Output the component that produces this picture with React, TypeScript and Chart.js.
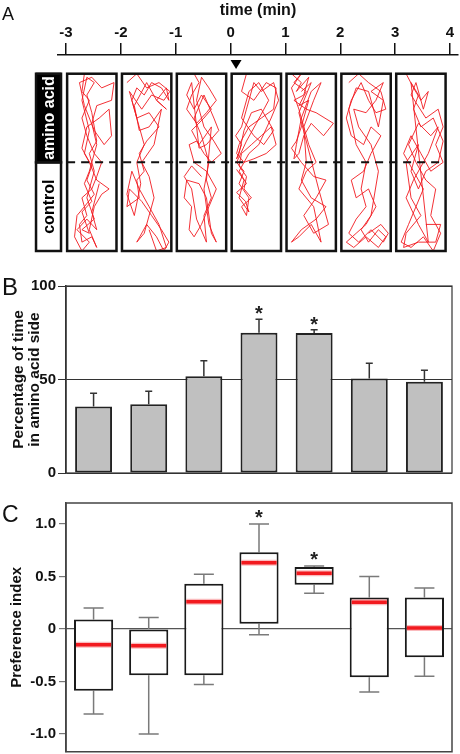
import React, { useEffect, useRef } from 'react';
import { Chart, registerables } from 'chart.js';

Chart.register(...registerables);

const FONT = "'Liberation Sans', Arial, Helvetica, sans-serif";
const RED = '#f21a1f';

// ---------------- Panel A data ----------------
const timeTicks = [-3, -2, -1, 0, 1, 2, 3, 4];
const windowStarts = [-3, -2, -1, 0, 1, 2, 3];
const stimulusTime = 0.1;
const sideLabels = ['amino acid', 'control'];

// normalized [across, up] positions inside each 1-minute arena snapshot
const traj1: [number, number][] = [
  [0.35, 1.0], [0.3, 0.9], [0.45, 0.85], [0.3, 0.75], [0.4, 0.65], [0.55, 0.55], [0.7, 0.5], [0.6, 0.42],
  [0.5, 0.35], [0.3, 0.3], [0.4, 0.2], [0.25, 0.15], [0.3, 0.05], [0.5, 0.08], [0.6, 0.02], [0.45, 0.12],
  [0.55, 0.25], [0.7, 0.32], [0.85, 0.35], [0.6, 0.4], [0.45, 0.5], [0.3, 0.58], [0.4, 0.7], [0.65, 0.75],
  [0.85, 0.8], [0.9, 0.65], [0.75, 0.6], [0.55, 0.68], [0.35, 0.82], [0.25, 0.95], [0.5, 0.98], [0.7, 0.92],
  [0.95, 0.95], [0.9, 0.85], [0.6, 0.82], [0.5, 0.72], [0.6, 0.6], [0.45, 0.45], [0.35, 0.38], [0.5, 0.28],
  [0.3, 0.22], [0.45, 0.1], [0.3, 0.12], [0.55, 0.18], [0.4, 0.3], [0.55, 0.45], [0.45, 0.55], [0.6, 0.62],
  [0.5, 0.78], [0.4, 0.88], [0.55, 0.95], [0.4, 0.98], [0.3, 0.85], [0.45, 0.68], [0.35, 0.55], [0.5, 0.48],
  [0.4, 0.4], [0.55, 0.32], [0.35, 0.25], [0.2, 0.2], [0.15, 0.08], [0.3, 0.0], [0.45, 0.05], [0.2, 0.12],
  [0.4, 0.18], [0.6, 0.12], [0.5, 0.22], [0.65, 0.38],
];
const traj2: [number, number][] = [
  [0.1, 0.95], [0.3, 1.0], [0.5, 0.92], [0.75, 0.95], [0.97, 0.9], [0.85, 0.85], [0.6, 0.88], [0.4, 0.8],
  [0.15, 0.9], [0.3, 0.75], [0.55, 0.78], [0.75, 0.7], [0.5, 0.62], [0.35, 0.55], [0.45, 0.45], [0.3, 0.4],
  [0.35, 0.3], [0.1, 0.25], [0.15, 0.35], [0.4, 0.28], [0.6, 0.2], [0.8, 0.12], [0.95, 0.05], [0.85, 0.0],
  [0.7, 0.08], [0.5, 0.15], [0.3, 0.05], [0.45, 0.1], [0.65, 0.3], [0.55, 0.42], [0.4, 0.5], [0.65, 0.6],
  [0.8, 0.8], [0.55, 0.7], [0.35, 0.68], [0.25, 0.82], [0.5, 0.95], [0.7, 0.85], [0.9, 0.8], [0.7, 0.85],
  [0.9, 0.92], [0.95, 0.85], [0.8, 0.92], [0.6, 0.95], [0.45, 0.88], [0.3, 0.92], [0.2, 0.85], [0.35, 0.7],
  [0.45, 0.6], [0.3, 0.5], [0.38, 0.38], [0.25, 0.2], [0.1, 0.32], [0.2, 0.45], [0.35, 0.35], [0.55, 0.25],
  [0.75, 0.15], [0.9, 0.02], [0.7, 0.0], [0.55, 0.12],
];
const traj3: [number, number][] = [
  [0.35, 1.0], [0.45, 0.95], [0.3, 0.88], [0.2, 0.8], [0.4, 0.72], [0.6, 0.78], [0.8, 0.85], [0.65, 0.92],
  [0.5, 0.98], [0.4, 0.85], [0.55, 0.7], [0.75, 0.62], [0.9, 0.55], [0.7, 0.5], [0.55, 0.55], [0.4, 0.62],
  [0.25, 0.6], [0.35, 0.5], [0.6, 0.45], [0.8, 0.35], [0.65, 0.25], [0.5, 0.15], [0.35, 0.08], [0.25, 0.12],
  [0.3, 0.25], [0.15, 0.3], [0.2, 0.4], [0.45, 0.38], [0.6, 0.3], [0.7, 0.1], [0.8, 0.05], [0.65, 0.15],
  [0.55, 0.35], [0.65, 0.5], [0.5, 0.65], [0.35, 0.75], [0.55, 0.88], [0.75, 0.75], [0.85, 0.68], [0.6, 0.6],
  [0.45, 0.58], [0.3, 0.95], [0.2, 0.88], [0.35, 0.8], [0.5, 0.88], [0.7, 0.8], [0.55, 0.75], [0.3, 0.68],
  [0.45, 0.6], [0.7, 0.7], [0.6, 0.4], [0.7, 0.3], [0.55, 0.2], [0.6, 0.05], [0.4, 0.18], [0.3, 0.35],
  [0.15, 0.42], [0.3, 0.48], [0.5, 0.42],
];
const traj4: [number, number][] = [
  [0.3, 1.0], [0.2, 0.9], [0.45, 0.85], [0.7, 0.95], [0.9, 0.92], [0.85, 0.8], [0.6, 0.75], [0.35, 0.7],
  [0.15, 0.6], [0.1, 0.55], [0.25, 0.5], [0.45, 0.52], [0.7, 0.55], [0.9, 0.6], [0.8, 0.7], [0.6, 0.65],
  [0.4, 0.6], [0.2, 0.55], [0.15, 0.48], [0.3, 0.42], [0.25, 0.35], [0.4, 0.3], [0.2, 0.25], [0.3, 0.2],
  [0.35, 0.3], [0.15, 0.38], [0.25, 0.45], [0.1, 0.5], [0.3, 0.62], [0.5, 0.72], [0.75, 0.85], [0.55, 0.95],
  [0.35, 0.9], [0.2, 0.75], [0.45, 0.65], [0.65, 0.6], [0.85, 0.68], [0.6, 0.8], [0.4, 0.78], [0.25, 0.68],
  [0.15, 0.55], [0.1, 0.52], [0.2, 0.6], [0.08, 0.65], [0.2, 0.7], [0.3, 0.8], [0.45, 0.95], [0.6, 0.9],
  [0.85, 0.95], [0.95, 0.85], [0.8, 0.75], [0.55, 0.6], [0.35, 0.55], [0.15, 0.45], [0.3, 0.38], [0.1, 0.33],
  [0.28, 0.28], [0.35, 0.22], [0.15, 0.3], [0.25, 0.4], [0.1, 0.46],
];
const traj5: [number, number][] = [
  [0.1, 1.0], [0.3, 0.95], [0.2, 0.9], [0.45, 0.98], [0.35, 0.88], [0.15, 0.85], [0.4, 0.8], [0.6, 0.78],
  [0.95, 0.72], [0.75, 0.65], [0.5, 0.72], [0.35, 0.65], [0.25, 0.55], [0.15, 0.52], [0.2, 0.6], [0.3, 0.75],
  [0.5, 0.9], [0.7, 0.95], [0.55, 0.85], [0.35, 0.7], [0.4, 0.5], [0.3, 0.4], [0.5, 0.3], [0.8, 0.25],
  [0.6, 0.18], [0.3, 0.12], [0.1, 0.05], [0.25, 0.08], [0.5, 0.15], [0.7, 0.05], [0.55, 0.25], [0.25, 0.35],
  [0.4, 0.45], [0.6, 0.5], [0.45, 0.6], [0.25, 0.8], [0.1, 0.92], [0.3, 1.0], [0.15, 0.95], [0.4, 0.9],
  [0.25, 0.82], [0.45, 0.85], [0.3, 0.7], [0.2, 0.62], [0.1, 0.58], [0.3, 0.5], [0.55, 0.42], [0.8, 0.4],
  [0.6, 0.3], [0.35, 0.2], [0.55, 0.1], [0.85, 0.15], [0.65, 0.35], [0.4, 0.62], [0.25, 0.78], [0.5, 0.95],
  [0.3, 0.9],
];
const traj6: [number, number][] = [
  [0.15, 0.95], [0.35, 1.0], [0.55, 0.95], [0.8, 0.9], [0.9, 0.8], [0.7, 0.78], [0.55, 0.85], [0.4, 0.95],
  [0.2, 0.85], [0.1, 0.75], [0.2, 0.65], [0.45, 0.6], [0.6, 0.7], [0.8, 0.65], [0.6, 0.55], [0.45, 0.45],
  [0.2, 0.4], [0.3, 0.3], [0.55, 0.35], [0.7, 0.25], [0.5, 0.15], [0.3, 0.1], [0.1, 0.05], [0.25, 0.02],
  [0.5, 0.08], [0.75, 0.02], [0.9, 0.08], [0.75, 0.12], [0.55, 0.05], [0.4, 0.12], [0.6, 0.2], [0.75, 0.45],
  [0.6, 0.6], [0.35, 0.7], [0.25, 0.8], [0.5, 0.78], [0.7, 0.85], [0.85, 0.95], [0.6, 0.9], [0.85, 0.85],
  [0.75, 0.7], [0.55, 0.9], [0.3, 0.92], [0.15, 0.8], [0.3, 0.6], [0.5, 0.5], [0.4, 0.35], [0.5, 0.25],
  [0.3, 0.18], [0.15, 0.1], [0.35, 0.05], [0.6, 0.12], [0.85, 0.05], [0.95, 0.1], [0.8, 0.15], [0.55, 0.1],
];
const traj7: [number, number][] = [
  [0.2, 1.0], [0.35, 0.92], [0.5, 0.85], [0.65, 0.9], [0.55, 0.8], [0.4, 0.95], [0.3, 0.88], [0.6, 0.75],
  [0.85, 0.8], [0.95, 0.7], [0.8, 0.6], [0.95, 0.5], [0.7, 0.45], [0.5, 0.55], [0.3, 0.65], [0.15, 0.55],
  [0.35, 0.45], [0.55, 0.35], [0.4, 0.25], [0.25, 0.15], [0.1, 0.05], [0.3, 0.02], [0.55, 0.08], [0.75, 0.0],
  [0.9, 0.1], [0.7, 0.2], [0.8, 0.35], [0.6, 0.4], [0.4, 0.5], [0.25, 0.6], [0.45, 0.72], [0.7, 0.65],
  [0.85, 0.7], [0.65, 0.55], [0.35, 0.4], [0.2, 0.3], [0.45, 0.15], [0.65, 0.05], [0.3, 0.95], [0.45, 0.88],
  [0.35, 0.8], [0.5, 0.7], [0.75, 0.75], [0.95, 0.62], [0.85, 0.5], [0.6, 0.45], [0.45, 0.35], [0.3, 0.45],
  [0.45, 0.6], [0.2, 0.5], [0.3, 0.3], [0.5, 0.2], [0.2, 0.1], [0.15, 0.02], [0.45, 0.05], [0.8, 0.05],
  [0.9, 0.15], [0.6, 0.15],
];
const trajectories = [traj1, traj2, traj3, traj4, traj5, traj6, traj7];

// ---------------- Panel B data ----------------
const categories = ['-3~-2', '-2~-1', '-1~0', '0~1', '1~2', '2~3', '3~4'];
const pctMean = [35.5, 36.7, 51.7, 75.0, 74.9, 50.6, 48.8];
const pctErr = [7.1, 7.0, 8.3, 7.2, 1.7, 8.1, 6.2];
const pctSignificant = [false, false, false, true, true, false, false];
const pctTicks = [0, 50, 100];

// ---------------- Panel C data ----------------
const piMin = [-0.81, -1.0, -0.53, -0.055, 0.34, -0.6, -0.45];
const piQ1 = [-0.59, -0.44, -0.44, 0.05, 0.42, -0.46, -0.27];
const piMedian = [-0.15, -0.16, 0.26, 0.63, 0.53, 0.255, 0.01];
const piQ3 = [0.09, 0.0, 0.43, 0.73, 0.59, 0.3, 0.3];
const piMax = [0.2, 0.11, 0.52, 1.0, 0.6, 0.5, 0.39];
const piSignificant = [false, false, false, true, true, false, false];
const piTicks = [-1, -0.5, 0, 0.5, 1];

// ---------------- helpers ----------------
const BOX_L = 0.02;
const BOX_W = 0.9;
const boldFont = (size: number) => ({ family: FONT, size, weight: 'bold' as const, lineHeight: 1.1 });

function drawStar(ctx: CanvasRenderingContext2D, x: number, y: number) {
  ctx.save();
  ctx.font = `bold 20px ${FONT}`;
  ctx.textAlign = 'center';
  ctx.textBaseline = 'alphabetic';
  ctx.fillStyle = '#222';
  ctx.fillText('*', x, y);
  ctx.restore();
}

function drawLetter(ctx: CanvasRenderingContext2D, t: string, x: number, y: number, size: number) {
  ctx.save();
  ctx.font = `${size}px ${FONT}`;
  ctx.textAlign = 'left';
  ctx.textBaseline = 'alphabetic';
  ctx.fillStyle = '#111';
  ctx.fillText(t, x, y);
  ctx.restore();
}

const framePlugin = (lw: number, color: string) => ({
  id: 'frame',
  beforeDatasetsDraw(chart: any) {
    const { ctx, chartArea: a } = chart;
    ctx.save();
    ctx.strokeStyle = color;
    ctx.lineWidth = lw;
    ctx.strokeRect(a.left, a.top, a.right - a.left, a.bottom - a.top);
    ctx.restore();
  },
});

// ---------------- configs ----------------
function configA(): any {
  const panelA = {
    id: 'panelA',
    afterDatasetsDraw(chart: any) {
      const { ctx } = chart;
      const xs = chart.scales.x;
      const ys = chart.scales.y;
      const yTop = ys.getPixelForValue(1);
      const yBot = ys.getPixelForValue(0);
      const yMid = ys.getPixelForValue(0.5);
      ctx.save();
      // arena boxes
      ctx.strokeStyle = '#111';
      ctx.lineWidth = 2.5;
      windowStarts.forEach((t) => {
        const x0 = xs.getPixelForValue(t + BOX_L);
        const x1 = xs.getPixelForValue(t + BOX_L + BOX_W);
        ctx.strokeRect(x0, yTop, x1 - x0, yBot - yTop);
      });
      // dashed midline
      const xl = xs.getPixelForValue(windowStarts[0] + BOX_L);
      const xr = xs.getPixelForValue(windowStarts[windowStarts.length - 1] + BOX_L + BOX_W);
      ctx.setLineDash([8, 6]);
      ctx.lineWidth = 2;
      ctx.beginPath();
      ctx.moveTo(xl, yMid);
      ctx.lineTo(xr, yMid);
      ctx.stroke();
      ctx.setLineDash([]);
      // side labels
      const lx = xs.getPixelForValue(-3) - 30;
      const lw = 25;
      ctx.fillStyle = '#000';
      ctx.fillRect(lx, yTop - 1, lw, yMid - yTop + 1);
      ctx.lineWidth = 2.5;
      ctx.strokeRect(lx, yTop, lw, yMid - yTop);
      ctx.strokeRect(lx, yMid, lw, yBot - yMid);
      ctx.font = `bold 16px ${FONT}`;
      ctx.textAlign = 'center';
      ctx.textBaseline = 'middle';
      ctx.save();
      ctx.translate(lx + lw / 2 + 1, (yTop + yMid) / 2);
      ctx.rotate(-Math.PI / 2);
      ctx.fillStyle = '#fff';
      ctx.fillText(sideLabels[0], 0, 0);
      ctx.restore();
      ctx.save();
      ctx.translate(lx + lw / 2 + 1, (yMid + yBot) / 2);
      ctx.rotate(-Math.PI / 2);
      ctx.fillStyle = '#000';
      ctx.fillText(sideLabels[1], 0, 0);
      ctx.restore();
      // stimulus arrowhead
      const ax = xs.getPixelForValue(stimulusTime);
      const ay = chart.chartArea.top;
      ctx.fillStyle = '#000';
      ctx.beginPath();
      ctx.moveTo(ax - 5.5, ay + 5);
      ctx.lineTo(ax + 5.5, ay + 5);
      ctx.lineTo(ax, ay + 14);
      ctx.closePath();
      ctx.fill();
      ctx.restore();
      drawLetter(ctx, 'A', 2, 20, 18);
    },
  };
  return {
    type: 'scatter',
    data: {
      datasets: trajectories.map((pts, i) => ({
        data: pts.map(([u, v]) => ({ x: windowStarts[i] + BOX_L + u * BOX_W, y: v })),
        showLine: true,
        borderColor: RED,
        borderWidth: 0.9,
        pointRadius: 0,
        tension: 0,
      })),
    },
    options: {
      animation: false,
      responsive: false,
      events: [],
      layout: { padding: { left: 57.8, right: 1.8, top: 2, bottom: 5 } },
      plugins: { legend: { display: false }, tooltip: { enabled: false } },
      scales: {
        x: {
          type: 'linear',
          position: 'top',
          min: -3.15,
          max: 4.15,
          afterBuildTicks: (s: any) => {
            s.ticks = timeTicks.map((v) => ({ value: v }));
          },
          ticks: { font: boldFont(15), color: '#111', padding: 2, maxRotation: 0, callback: (v: any) => String(v) },
          grid: { drawOnChartArea: false, drawTicks: true, tickLength: 12, color: '#111', lineWidth: 1.5 },
          border: { display: true, color: '#111', width: 1.5 },
          title: { display: true, text: 'time (min)', font: boldFont(16), color: '#111', padding: { top: 0, bottom: 3 } },
        },
        y: { display: false, min: 0, max: 1.105 },
      },
    },
    plugins: [panelA],
  };
}

function configB(): any {
  const overlay = {
    id: 'panelB',
    afterDatasetsDraw(chart: any) {
      const { ctx } = chart;
      const xs = chart.scales.x;
      const ys = chart.scales.y;
      ctx.save();
      ctx.strokeStyle = '#333';
      ctx.lineWidth = 1.5;
      pctMean.forEach((m, i) => {
        const x = xs.getPixelForValue(i);
        const y0 = ys.getPixelForValue(m);
        const y1 = ys.getPixelForValue(m + pctErr[i]);
        ctx.beginPath();
        ctx.moveTo(x, y0);
        ctx.lineTo(x, y1);
        ctx.moveTo(x - 3.5, y1);
        ctx.lineTo(x + 3.5, y1);
        ctx.stroke();
        if (pctSignificant[i]) drawStar(ctx, x, y1 + 1);
      });
      ctx.restore();
      drawLetter(ctx, 'B', 2, 33, 24);
    },
  };
  return {
    type: 'bar',
    data: {
      labels: categories,
      datasets: [
        {
          data: pctMean,
          backgroundColor: '#c0c0c0',
          borderColor: '#222',
          borderWidth: 2,
          borderSkipped: false,
          barPercentage: 0.67,
          categoryPercentage: 1,
        },
      ],
    },
    options: {
      animation: false,
      responsive: false,
      events: [],
      layout: { padding: { left: 0, right: 8, top: 24, bottom: 11 } },
      plugins: { legend: { display: false }, tooltip: { enabled: false } },
      scales: {
        x: { display: false },
        y: {
          min: 0,
          max: 100,
          afterFit: (s: any) => {
            s.width = 66;
          },
          afterBuildTicks: (s: any) => {
            s.ticks = pctTicks.map((v) => ({ value: v }));
          },
          ticks: { font: boldFont(15), color: '#111', padding: 2 },
          grid: { color: '#333', lineWidth: 1, tickLength: 8 },
          border: { display: true, color: '#333', width: 1.5 },
          title: {
            display: true,
            text: ['Percentage of time', 'in amino acid side'],
            font: { family: FONT, size: 15.5, weight: 'bold', lineHeight: 1.04 },
            color: '#111',
            padding: { top: 11, bottom: 0 },
          },
        },
      },
    },
    plugins: [framePlugin(1.2, '#333'), overlay],
  };
}

function configC(): any {
  const under = {
    id: 'whiskers',
    beforeDatasetsDraw(chart: any) {
      const { ctx } = chart;
      const xs = chart.scales.x;
      const ys = chart.scales.y;
      ctx.save();
      ctx.strokeStyle = '#7a7a7a';
      ctx.lineWidth = 1.5;
      piMin.forEach((mn, i) => {
        const x = xs.getPixelForValue(i);
        const yMin = ys.getPixelForValue(mn);
        const yMax = ys.getPixelForValue(piMax[i]);
        const yQ1 = ys.getPixelForValue(piQ1[i]);
        const yQ3 = ys.getPixelForValue(piQ3[i]);
        ctx.beginPath();
        ctx.moveTo(x, yQ3);
        ctx.lineTo(x, yMax);
        ctx.moveTo(x - 10, yMax);
        ctx.lineTo(x + 10, yMax);
        ctx.moveTo(x, yQ1);
        ctx.lineTo(x, yMin);
        ctx.moveTo(x - 10, yMin);
        ctx.lineTo(x + 10, yMin);
        ctx.stroke();
      });
      ctx.restore();
    },
  };
  const over = {
    id: 'medians',
    afterDatasetsDraw(chart: any) {
      const { ctx } = chart;
      const xs = chart.scales.x;
      const ys = chart.scales.y;
      const meta = chart.getDatasetMeta(0);
      ctx.save();
      piMedian.forEach((md, i) => {
        const el = meta.data[i];
        const half = el.width / 2 - 2;
        const x = xs.getPixelForValue(i);
        const y = ys.getPixelForValue(md);
        ctx.strokeStyle = 'rgba(238,28,36,0.3)';
        ctx.lineWidth = 6;
        ctx.beginPath();
        ctx.moveTo(x - half, y);
        ctx.lineTo(x + half, y);
        ctx.stroke();
        ctx.strokeStyle = RED;
        ctx.lineWidth = 3.5;
        ctx.beginPath();
        ctx.moveTo(x - half, y);
        ctx.lineTo(x + half, y);
        ctx.stroke();
        if (piSignificant[i]) drawStar(ctx, x, ys.getPixelForValue(piMax[i]));
      });
      ctx.restore();
      drawLetter(ctx, 'C', 2, 32, 23);
    },
  };
  return {
    type: 'bar',
    data: {
      labels: categories,
      datasets: [
        {
          data: piQ1.map((q, i) => [q, piQ3[i]]),
          backgroundColor: '#fff',
          borderColor: '#1a1a1a',
          borderWidth: 2,
          borderSkipped: false,
          barPercentage: 0.71,
          categoryPercentage: 1,
        },
      ],
    },
    options: {
      animation: false,
      responsive: false,
      events: [],
      layout: { padding: { left: 0, right: 8, top: 13, bottom: 2 } },
      plugins: { legend: { display: false }, tooltip: { enabled: false } },
      scales: {
        x: { display: false },
        y: {
          min: -1.17,
          max: 1.2,
          afterFit: (s: any) => {
            s.width = 66;
          },
          afterBuildTicks: (s: any) => {
            s.ticks = piTicks.map((v) => ({ value: v }));
          },
          ticks: {
            font: boldFont(15),
            color: '#111',
            padding: 3,
            callback: (v: any) => (Number(v) === 0 ? '0' : Number(v).toFixed(1)),
          },
          grid: {
            color: (c: any) => (c.tick && c.tick.value === 0 ? '#555' : 'rgba(0,0,0,0)'),
            tickColor: '#777',
            lineWidth: 1.2,
            tickLength: 7,
          },
          border: { display: true, color: '#444', width: 1.5 },
          title: {
            display: true,
            text: 'Preference index',
            font: boldFont(15),
            color: '#111',
            padding: { top: 9, bottom: 0 },
          },
        },
      },
    },
    plugins: [framePlugin(1.5, '#444'), under, over],
  };
}

function ChartCanvas({ make, top, height }: { make: () => any; top: number; height: number }) {
  const ref = useRef<HTMLCanvasElement>(null);
  useEffect(() => {
    const chart = new Chart(ref.current as HTMLCanvasElement, make());
    return () => chart.destroy();
  }, []);
  return (
    <canvas
      ref={ref}
      width={460}
      height={height}
      style={{ position: 'absolute', left: 0, top, width: 460, height, display: 'block' }}
    />
  );
}

export default function App() {
  return (
    <div style={{ position: 'absolute', left: 0, top: 0, width: 460, height: 754, background: '#fff', overflow: 'hidden' }}>
      <ChartCanvas make={configA} top={0} height={256} />
      <ChartCanvas make={configB} top={262} height={222} />
      <ChartCanvas make={configC} top={490} height={273} />
    </div>
  );
}
